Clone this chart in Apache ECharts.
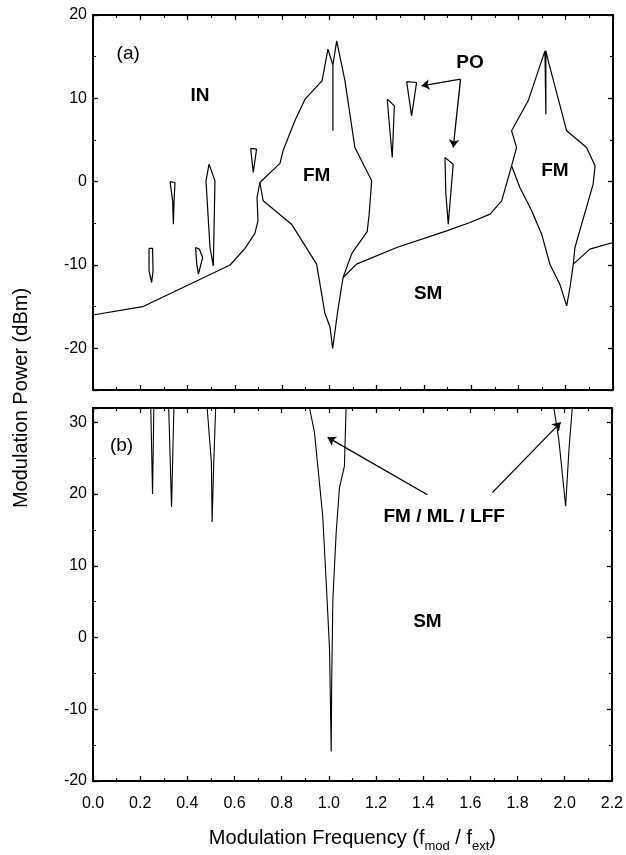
<!DOCTYPE html>
<html>
<head>
<meta charset="utf-8">
<script src="https://cdn.jsdelivr.net/npm/echarts/dist/echarts.min.js"></script>
</head>
<body style="margin:0;background:#fff">
<div id="main" style="width:626px;height:855px"></div>
<script>
// ---- panel (a): boundaries of the dynamical regions ----
const inBoundary = [[0,-16],[0.21,-15],[0.58,-10],[0.643,-8],[0.685,-6.2],[0.698,-4.7],[0.694,-1.9],[0.706,-0.1]];
const fmLobe1 = [[0.706,-0.1],[0.791,2.2],[0.804,3.7],[0.854,7.3],[0.897,9.9],[0.969,12.1],[0.994,15.9],
  [1.015,14.0],[1.015,6.1],[1.015,14.0],[1.031,16.9],[1.066,12.1],[1.108,4.1],[1.179,0.1],[1.168,-4],
  [1.16,-6],[1.095,-8.6],[1.058,-11.5],[1.036,-15.4],[1.014,-20],[1.0025,-17.4],[0.981,-15.8],
  [0.967,-13.4],[0.946,-9.9],[0.84,-5.1],[0.72,-2.3],[0.706,-0.1]];
const smBoundary = [[1.058,-11.5],[1.115,-9.9],[1.285,-7.9],[1.496,-5.9],[1.595,-4.9],[1.68,-3.9],[1.729,-2.3],[1.771,1.9]];
const fmLobe2 = [[1.771,1.9],[1.792,4.1],[1.771,6.1],[1.841,9.7],[1.912,15.7],[1.916,8.1],[1.916,15.7],
  [1.926,14.5],[2.004,6.1],[2.088,4.1],[2.124,1.9],[2.116,-0.3],[2.039,-7.9],[2.032,-9.9],[2.018,-12.7],
  [2.004,-14.9],[1.975,-12.3],[1.933,-9.9],[1.898,-6.3],[1.856,-3.5],[1.806,-0.7],[1.771,1.9]];
const rightTail = [[2.032,-9.9],[2.102,-8.1],[2.2,-7.3]];
// periodic orbit (PO) islands
const po1 = [[0.237,-8],[0.252,-8],[0.254,-10.7],[0.248,-12.1],[0.237,-10.7],[0.237,-8]];
const po2 = [[0.326,0],[0.347,-0.1],[0.343,-2.3],[0.34,-5.1],[0.337,-2.3],[0.326,0]];
const po3 = [[0.434,-7.9],[0.45,-8.1],[0.464,-9.1],[0.446,-11.1],[0.439,-9.9],[0.434,-7.9]];
const po4 = [[0.478,0.1],[0.491,2.1],[0.516,0.1],[0.509,-10.1],[0.495,-7.9],[0.478,0.1]];
const po5 = [[0.667,4.0],[0.692,3.9],[0.678,1.1],[0.667,4.0]];
const po6 = [[1.245,9.9],[1.275,9.1],[1.266,2.9],[1.249,8.5],[1.245,9.9]];
const po7 = [[1.327,12.0],[1.369,11.9],[1.348,7.9],[1.327,12.0]];
const po8 = [[1.489,2.9],[1.524,2.1],[1.503,-5.1],[1.493,-1.5],[1.489,2.9]];
const arrowsA = [[[1.555,12.3],[1.39,11.5]], [[1.555,12.3],[1.524,4.1]]];
const labelsA = [[0.149,15.3,'(a)'],[0.453,10.3,'IN'],[0.946,0.7,'FM'],[1.954,1.3,'FM'],[1.418,-13.4,'SM'],[1.595,14.3,'PO']];

// ---- panel (b) ----
const spike1 = [[0.245,32],[0.2525,20],[0.258,32]];
const spike2 = [[0.321,32],[0.333,18.2],[0.343,32]];
const spike3 = [[0.484,32],[0.502,24.4],[0.505,16.1],[0.512,24.4],[0.52,32]];
const bigV = [[0.918,32],[0.939,28.6],[0.96,21.6],[0.974,16.9],[0.989,7.6],[1.003,-1.7],[1.01,-15.9],
  [1.012,-6.3],[1.017,5.3],[1.031,14.6],[1.045,20.9],[1.066,23.9],[1.073,32]];
const spike4 = [[1.954,32],[1.975,27.6],[2.004,18.3],[2.018,26.2],[2.032,32]];
const arrowsB = [[[1.418,19.9],[0.995,27.9]], [[1.693,20.2],[1.983,30]]];
const labelsB = [[0.121,26.7,'(b)'],[1.489,16.9,'FM / ML / LFF'],[1.418,2.25,'SM']];

const FONT = "'Liberation Sans', Arial, sans-serif";
const chart = echarts.init(document.getElementById('main'));

function xAxes(g, withLabels) {
  const base = {
    type: 'value', gridIndex: g, min: 0, max: 2.2, interval: 0.2,
    axisLine: { show: true, onZero: false, lineStyle: { color: '#000', width: 1.8 } },
    axisTick: { inside: true, length: 5, lineStyle: { color: '#000', width: 1.3 } },
    minorTick: { show: true, splitNumber: 2, length: 3, lineStyle: { color: '#000', width: 1.1 } },
    splitLine: { show: false }
  };
  return [
    Object.assign({}, base, { position: 'bottom', axisLabel: { show: withLabels, fontSize: 16, color: '#000', fontFamily: FONT, margin: 15, formatter: v => v.toFixed(1) } }),
    Object.assign({}, base, { position: 'top', axisLabel: { show: false } })
  ];
}
function yAxes(g, min, max) {
  const line = { show: true, onZero: false, lineStyle: { color: '#000', width: 1.8 } };
  const list = [];
  ['left', 'right'].forEach(pos => {
    // short ticks every 5
    list.push({ type: 'value', gridIndex: g, position: pos, min: min, max: max, interval: 5,
      axisLine: line, splitLine: { show: false },
      axisTick: { inside: true, length: 3, lineStyle: { color: '#000', width: 1.1 } },
      axisLabel: { show: pos === 'left', fontSize: 16, color: '#000', fontFamily: FONT, margin: 6,
        formatter: v => (v % 10 === 0 ? String(v) : '') } });
    // long ticks every 10
    list.push({ type: 'value', gridIndex: g, position: pos, min: min, max: max, splitNumber: 5,
      axisLine: line, splitLine: { show: false },
      axisTick: { inside: true, length: 5, lineStyle: { color: '#000', width: 1.3 } },
      axisLabel: { show: false } });
  });
  return list;
}

const xAxis = [...xAxes(0, false), ...xAxes(1, true)];
xAxis[2].name = '{a|Modulation Frequency (f}{s|mod}{a| / f}{s|ext}{a|)}';
xAxis[2].nameLocation = 'middle';
xAxis[2].nameGap = 42;
xAxis[2].nameTextStyle = { rich: {
  a: { fontSize: 20, fontFamily: FONT, color: '#000', lineHeight: 30, verticalAlign: 'middle' },
  s: { fontSize: 13, fontFamily: FONT, color: '#000', lineHeight: 30, verticalAlign: 'bottom' } } };
xAxis.push({ type: 'value', gridIndex: 2, show: false, min: 0, max: 1 });

const yAxis = [...yAxes(0, -25, 20), ...yAxes(1, -20, 32)];
yAxis.push({ type: 'value', gridIndex: 2, min: 0, max: 1, name: 'Modulation Power (dBm)',
  nameLocation: 'middle', nameGap: 62, nameRotate: 90,
  nameTextStyle: { fontSize: 20, fontFamily: FONT, color: '#000' },
  axisLine: { show: false }, axisTick: { show: false }, axisLabel: { show: false }, splitLine: { show: false } });

function curve(data, xi, yi, w) {
  return { type: 'line', xAxisIndex: xi, yAxisIndex: yi, data: data, showSymbol: false, symbol: 'none',
    lineStyle: { color: '#000', width: w || 1.2 }, silent: true, animation: false };
}
function arrows(list, xi, yi) {
  return { type: 'line', xAxisIndex: xi, yAxisIndex: yi, data: [], silent: true, animation: false,
    markLine: { silent: true, symbol: ['none', 'arrow'], symbolSize: 8, animation: false,
      label: { show: false }, lineStyle: { color: '#000', width: 1.3, type: 'solid' },
      data: list.map(a => [{ coord: a[0] }, { coord: a[1] }]) } };
}
function texts(list, xi, yi) {
  return { type: 'scatter', xAxisIndex: xi, yAxisIndex: yi, symbolSize: 0, silent: true, animation: false,
    itemStyle: { color: '#000', opacity: 1 },
    data: list.map(d => ({ value: d, label: { fontWeight: d[2].startsWith('(') ? 'normal' : 'bold' } })),
    label: { show: true, position: 'inside', color: '#000', textBorderWidth: 0, fontFamily: FONT,
      fontSize: 19, formatter: p => p.value[2] } };
}

chart.setOption({
  backgroundColor: '#fff',
  animation: false,
  grid: [
    { left: 93, right: 13, top: 15, height: 375 },
    { left: 93, right: 13, top: 408, height: 373 },
    { left: 93, right: 13, top: 15, bottom: 74 }
  ],
  xAxis: xAxis,
  yAxis: yAxis,
  series: [
    curve(inBoundary, 0, 0), curve(fmLobe1, 0, 0), curve(smBoundary, 0, 0),
    curve(fmLobe2, 0, 0), curve(rightTail, 0, 0),
    curve(po1, 0, 0), curve(po2, 0, 0), curve(po3, 0, 0), curve(po4, 0, 0),
    curve(po5, 0, 0), curve(po6, 0, 0), curve(po7, 0, 0), curve(po8, 0, 0),
    arrows(arrowsA, 0, 0), texts(labelsA, 0, 0),
    curve(spike1, 2, 4, 1.1), curve(spike2, 2, 4, 1.1), curve(spike3, 2, 4, 1.1),
    curve(bigV, 2, 4, 1.1), curve(spike4, 2, 4, 1.1),
    arrows(arrowsB, 2, 4), texts(labelsB, 2, 4)
  ]
});
</script>
</body>
</html>
